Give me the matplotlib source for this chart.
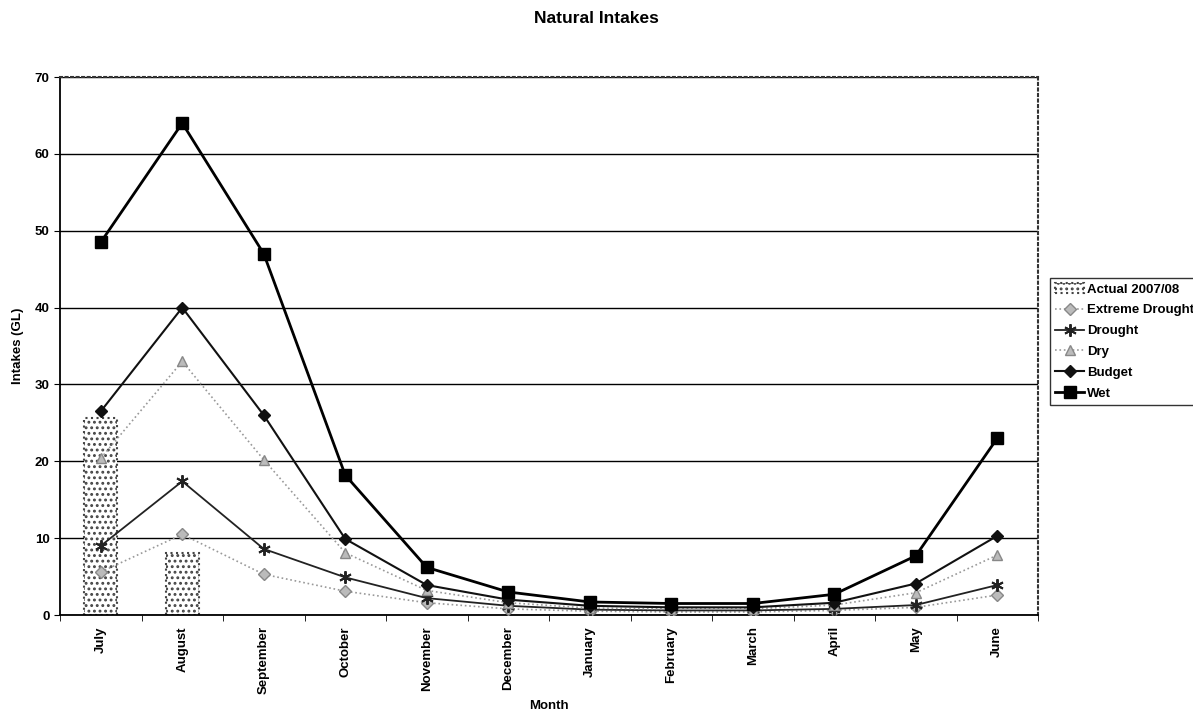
import numpy as np
import matplotlib
matplotlib.use("Agg")
import matplotlib.pyplot as plt

plt.rcParams['font.family'] = ['Liberation Sans', 'DejaVu Sans']
plt.rcParams['font.weight'] = 'bold'
plt.rcParams['hatch.linewidth'] = 1.3

months = ['July', 'August', 'September', 'October', 'November', 'December',
          'January', 'February', 'March', 'April', 'May', 'June']

actual = [25.6, 8.1]
extreme_drought = [5.6, 10.5, 5.3, 3.1, 1.6, 0.8, 0.5, 0.4, 0.4, 0.6, 1.0, 2.6]
drought = [9.0, 17.4, 8.6, 4.9, 2.2, 1.2, 0.7, 0.6, 0.6, 0.8, 1.3, 3.9]
dry = [20.4, 33.0, 20.2, 8.1, 3.2, 1.6, 0.9, 0.8, 0.8, 1.3, 2.9, 7.8]
budget = [26.5, 40.0, 26.0, 9.9, 3.9, 2.0, 1.2, 1.0, 1.0, 1.6, 4.1, 10.3]
wet = [48.5, 64.0, 47.0, 18.2, 6.2, 3.0, 1.7, 1.5, 1.5, 2.7, 7.7, 23.0]

fig = plt.figure(figsize=(11.93, 7.13), dpi=100)
ax = fig.add_axes([0.0503, 0.1374, 0.8198, 0.7546])

x = np.arange(len(months))

ax.bar(x[:len(actual)], actual, width=0.4, facecolor='white', edgecolor='#444444',
       hatch='...', linestyle=':', linewidth=1.5, label='Actual 2007/08', zorder=2)

ax.plot(x, extreme_drought, color='#999999', linestyle=':', linewidth=1.2,
        marker='D', markersize=6, markerfacecolor='#bbbbbb', markeredgecolor='#888888',
        label='Extreme Drought', zorder=3)
ax.plot(x, drought, color='#222222', linestyle='-', linewidth=1.3,
        marker=(6, 2, 0), markersize=9, markeredgewidth=1.4, markeredgecolor='#222222',
        label='Drought', zorder=3)
ax.plot(x, dry, color='#999999', linestyle=':', linewidth=1.2,
        marker='^', markersize=7, markerfacecolor='#bbbbbb', markeredgecolor='#888888',
        label='Dry', zorder=3)
ax.plot(x, budget, color='#111111', linestyle='-', linewidth=1.5,
        marker='D', markersize=6, markerfacecolor='#111111',
        label='Budget', zorder=4)
ax.plot(x, wet, color='#000000', linestyle='-', linewidth=2.0,
        marker='s', markersize=8, markerfacecolor='#000000',
        label='Wet', zorder=5)

ax.set_xlim(-0.5, len(months) - 0.5)
ax.set_ylim(0, 70)
ax.set_yticks(np.arange(0, 71, 10))
ax.yaxis.grid(True, color='black', linewidth=1.0)
ax.set_axisbelow(True)

ax.set_xticks(x)
ax.set_xticklabels(months, rotation=90, fontsize=9.5, fontweight='bold')
ax.set_xticks(np.arange(-0.5, len(months), 1), minor=True)
ax.tick_params(axis='x', which='major', length=0, pad=8)
ax.tick_params(axis='x', which='minor', length=4, direction='out')
ax.tick_params(axis='y', length=4, direction='out', labelsize=9.5)
for lbl in ax.get_yticklabels():
    lbl.set_fontweight('bold')

for s in ['top', 'right']:
    ax.spines[s].set_linestyle(':')
    ax.spines[s].set_color('#333333')
    ax.spines[s].set_linewidth(1.5)
ax.spines['left'].set_linewidth(1.3)
ax.spines['bottom'].set_linewidth(1.3)

ax.set_xlabel('Month', fontsize=9.5, fontweight='bold', labelpad=4)
ax.set_ylabel('Intakes (GL)', fontsize=9.5, fontweight='bold', labelpad=8)
fig.suptitle('Natural Intakes', fontsize=12.5, fontweight='bold', y=0.985)

handles, labels = ax.get_legend_handles_labels()
order = [labels.index(l) for l in ['Actual 2007/08', 'Extreme Drought', 'Drought',
                                    'Dry', 'Budget', 'Wet']]
leg = fig.legend([handles[i] for i in order], [labels[i] for i in order],
                 loc='upper left', bbox_to_anchor=(1050 / 1193, 1 - 278 / 713),
                 fontsize=9.5, frameon=True, fancybox=False, edgecolor='black',
                 handlelength=2.2, borderpad=0.4, labelspacing=0.65, handletextpad=0.2,
                 borderaxespad=0)
leg.get_frame().set_linewidth(1.0)

fig.savefig('out.png', dpi=100)
